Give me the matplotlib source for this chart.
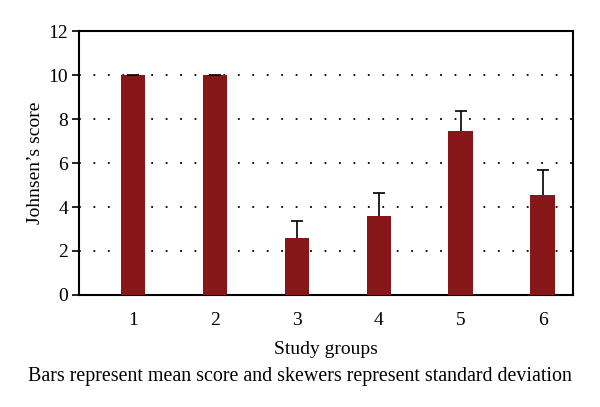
import matplotlib
matplotlib.use("Agg")
import matplotlib.pyplot as plt

# data
groups = [1, 2, 3, 4, 5, 6]
mean_score = [10.0, 10.0, 2.6, 3.6, 7.47, 4.53]
sd_score = [0.0, 0.0, 0.78, 1.03, 0.9, 1.17]
y_ticks = [0, 2, 4, 6, 8, 10, 12]

plt.rcParams['font.family'] = ['Liberation Serif', 'DejaVu Serif']

fig = plt.figure(figsize=(6, 4.07), dpi=100)
ax = fig.add_axes([0.1317, 0.2752, 0.8233, 0.6486])

bar_color = '#871618'
ax.bar(groups, mean_score, width=0.3, color=bar_color, zorder=3)
eb = ax.errorbar(groups, mean_score, yerr=[[0] * len(sd_score), sd_score],
                 fmt='none', ecolor='black', elinewidth=1.2, capsize=4,
                 capthick=1.2, zorder=4)
# only the upper cap is drawn
eb[1][0].set_visible(False)

ax.set_xlim(0.34, 6.37)
ax.set_ylim(0, 12)
ax.set_yticks(y_ticks)
ax.set_xticks(groups)
ax.tick_params(axis='x', length=0, pad=12, labelsize=14)
ax.tick_params(axis='y', length=5, width=1.2, direction='out', pad=3, labelsize=14)

ax.yaxis.grid(True, linestyle=(0, (1, 7)), color='black', linewidth=1.3, zorder=1)
for s in ax.spines.values():
    s.set_linewidth(1.5)
    s.set_color('black')

ax.set_ylabel("Johnsen’s score", fontsize=14, labelpad=3)
ax.set_xlabel("Study groups", fontsize=14, labelpad=9)

fig.text(0.5, 0.076, "Bars represent mean score and skewers represent standard deviation",
         ha='center', va='center', fontsize=14.4)

fig.savefig("out.png", dpi=100)
